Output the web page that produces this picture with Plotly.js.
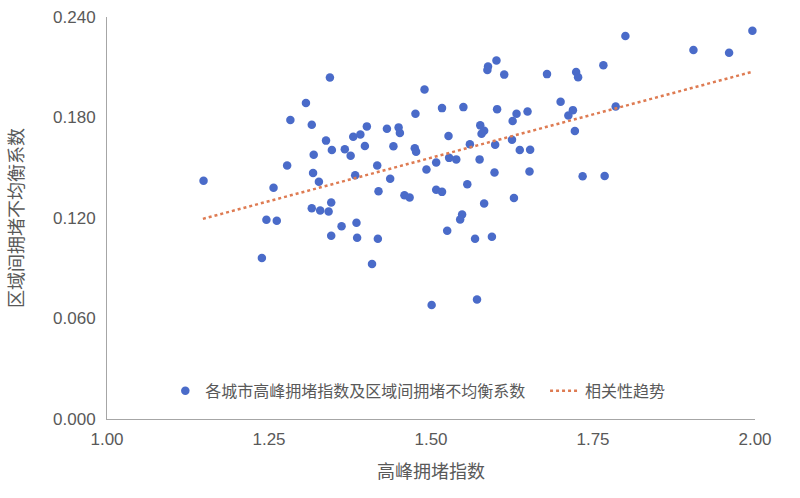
<!DOCTYPE html>
<html>
<head>
<meta charset="utf-8">
<script src="https://cdn.plot.ly/plotly-3.0.1.min.js"></script>
<style>html,body{margin:0;padding:0;background:#fff;}#chart{width:800px;height:498px;}</style>
</head>
<body>
<div id="chart"></div>
<script>
// 高峰拥堵指数 (x) and 区域间拥堵不均衡系数 (y) for each city
const peakIndex = [
1.344,1.307,1.283,1.316,1.401,1.380,1.391,1.338,1.398,1.347,
1.367,1.319,1.376,1.278,1.417,1.149,1.318,1.327,1.383,1.257,
1.419,1.346,1.316,1.329,1.342,1.246,1.262,1.385,1.362,1.346,
1.386,1.418,1.239,1.409,1.601,1.588,1.587,1.613,1.679,1.724,
1.727,1.490,1.700,1.517,1.550,1.602,1.476,1.632,1.649,1.719,
1.712,1.626,1.432,1.450,1.452,1.576,1.582,1.578,1.722,1.527,
1.625,1.442,1.560,1.599,1.475,1.477,1.637,1.653,1.528,1.539,
1.575,1.508,1.493,1.598,1.652,1.437,1.459,1.467,1.508,1.517,
1.556,1.582,1.628,1.734,1.768,1.548,1.545,1.525,1.568,1.594,
1.501,1.571,1.996,1.800,1.905,1.960,1.766,1.785
];
const imbalance = [
0.2039,0.1886,0.1785,0.1757,0.1747,0.1685,0.1699,0.1662,0.1630,0.1606,
0.1610,0.1578,0.1572,0.1513,0.1514,0.1422,0.1469,0.1417,0.1455,0.1380,
0.1360,0.1292,0.1258,0.1245,0.1239,0.1189,0.1183,0.1171,0.1151,0.1094,
0.1082,0.1076,0.0961,0.0925,0.2140,0.2104,0.2084,0.2056,0.2059,0.2071,
0.2041,0.1967,0.1894,0.1856,0.1862,0.1850,0.1822,0.1822,0.1836,0.1844,
0.1812,0.1779,0.1733,0.1741,0.1707,0.1753,0.1721,0.1703,0.1719,0.1690,
0.1667,0.1628,0.1640,0.1638,0.1616,0.1596,0.1606,0.1608,0.1559,0.1550,
0.1550,0.1532,0.1489,0.1471,0.1477,0.1435,0.1336,0.1322,0.1368,0.1356,
0.1401,0.1286,0.1320,0.1449,0.1451,0.1221,0.1191,0.1124,0.1076,0.1088,
0.0681,0.0713,0.2318,0.2287,0.2203,0.2187,0.2112,0.1866
];
// 相关性趋势 line endpoints
const trendX = [1.148, 1.997];
const trendY = [0.1195, 0.2074];

const seriesNames = ['各城市高峰拥堵指数及区域间拥堵不均衡系数', '相关性趋势'];
const xTitle = '高峰拥堵指数';
const yTitle = '区域间拥堵不均衡系数';
const xTicks = [1.00, 1.25, 1.50, 1.75, 2.00];
const yTicks = [0.000, 0.060, 0.120, 0.180, 0.240];

const cjk = '"Noto Sans CJK SC", "Liberation Sans", sans-serif';
const num = '"Liberation Sans", "DejaVu Sans", sans-serif';
const grey = '#595959';

const data = [
  {
    type: 'scatter', mode: 'markers', name: seriesNames[0],
    x: peakIndex, y: imbalance,
    marker: {color: '#4a6bc9', size: 8.5, line: {width: 0}},
    cliponaxis: false, legend: 'legend'
  },
  {
    type: 'scatter', mode: 'lines', name: seriesNames[1],
    x: trendX, y: trendY,
    line: {color: '#de7b52', width: 2.5, dash: 'dot'},
    legend: 'legend2'
  }
];

const legendFont = {family: cjk, size: 16, color: grey};
const layout = {
  width: 800, height: 498,
  margin: {l: 107, r: 45, t: 17, b: 79},
  paper_bgcolor: '#ffffff', plot_bgcolor: '#ffffff',
  font: {family: cjk, color: grey},
  showlegend: true,
  legend: {
    orientation: 'h', x: 0.09, xanchor: 'left', y: 0.07, yanchor: 'middle',
    font: legendFont, bgcolor: 'rgba(0,0,0,0)', itemwidth: 30
  },
  legend2: {
    orientation: 'h', x: 0.676, xanchor: 'left', y: 0.07, yanchor: 'middle',
    font: legendFont, bgcolor: 'rgba(0,0,0,0)', itemwidth: 30
  },
  xaxis: {
    range: [1, 2], tickvals: xTicks, ticktext: xTicks.map(v => v.toFixed(2)),
    showgrid: false, zeroline: false, showline: true, linecolor: '#a6a6a6', linewidth: 1,
    ticks: '', ticklabelstandoff: 5, tickfont: {family: num, size: 17, color: grey},
    title: {text: xTitle, font: {family: cjk, size: 18, color: grey}, standoff: 16}
  },
  yaxis: {
    range: [0, 0.24], tickvals: yTicks, ticktext: yTicks.map(v => v.toFixed(3)),
    showgrid: false, zeroline: false, showline: true, linecolor: '#a6a6a6', linewidth: 1,
    ticks: '', ticklabelstandoff: 7, tickfont: {family: num, size: 17, color: grey},
    title: {text: yTitle, font: {family: cjk, size: 18, color: grey}, standoff: 24}
  }
};

Plotly.newPlot('chart', data, layout, {displayModeBar: false, staticPlot: true});
</script>
</body>
</html>
